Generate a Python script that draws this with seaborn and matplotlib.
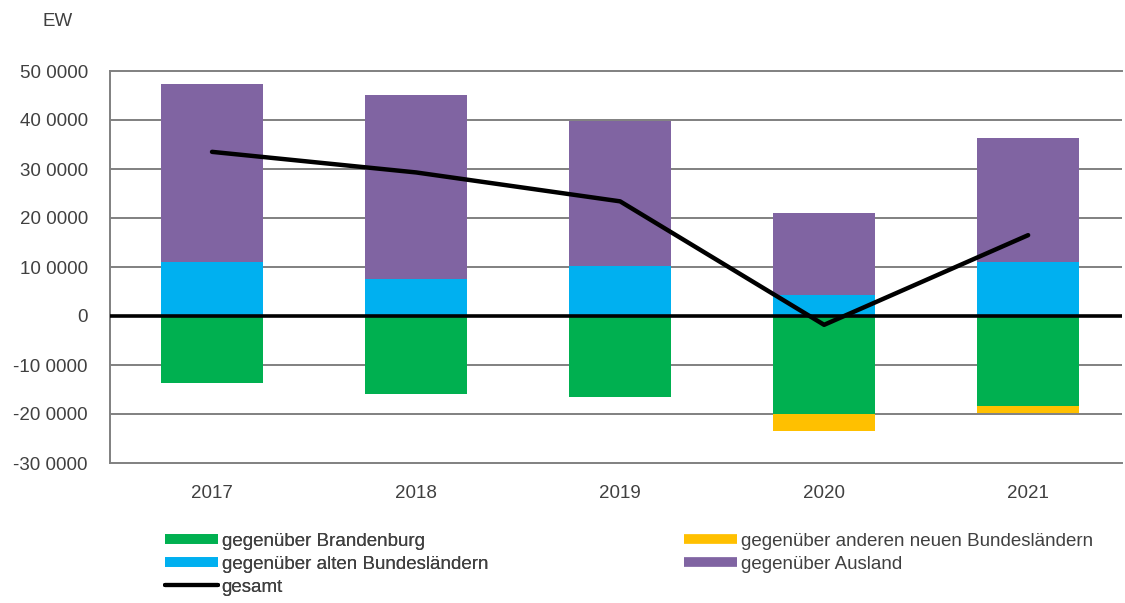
import matplotlib
matplotlib.use("Agg")
import matplotlib.pyplot as plt
from matplotlib.lines import Line2D
import seaborn as sns
import numpy as np
import pandas as pd

years = ["2017", "2018", "2019", "2020", "2021"]
brandenburg = [-13.7, -15.9, -16.6, -20.1, -18.3]
andere_neue = [0.0, 0.0, 0.0, -3.3, -1.4]
alte = [11.0, 7.5, 10.2, 4.3, 11.0]
ausland = [36.3, 37.6, 29.6, 16.8, 25.3]
gesamt = [33.5, 29.3, 23.4, -1.8, 16.5]

ytick_vals = [50, 40, 30, 20, 10, 0, -10, -20, -30]
ytick_labels = ["50 0000", "40 0000", "30 0000", "20 0000", "10 0000", "0",
                "-10 0000", "-20 0000", "-30 0000"]

labels = {
    "bb": "gegenüber Brandenburg",
    "an": "gegenüber anderen neuen Bundesländern",
    "ab": "gegenüber alten Bundesländern",
    "au": "gegenüber Ausland",
    "ges": "gesamt",
}
colors = {"bb": "#00B050", "an": "#FFC000", "ab": "#00B0F0", "au": "#8064A2"}

sns.set_theme(style="white")
plt.rcParams["font.family"] = ["Liberation Sans Narrow", "Liberation Sans", "DejaVu Sans"]

fig = plt.figure(figsize=(11.25, 6.03), dpi=100)
ax = fig.add_axes([110 / 1125, 1 - 463 / 603, 1012 / 1125, (463 - 71) / 603])

df = pd.DataFrame({"year": years, "bb": brandenburg, "an": andere_neue,
                   "ab": alte, "au": ausland, "ges": gesamt})
df["pos_total"] = df["ab"] + df["au"]
df["neg_total"] = df["bb"] + df["an"]

# positive stack: draw total then lower segment on top
sns.barplot(data=df, x="year", y="pos_total", color=colors["au"], width=0.5,
            saturation=1, ax=ax, zorder=2, linewidth=0)
sns.barplot(data=df, x="year", y="ab", color=colors["ab"], width=0.5,
            saturation=1, ax=ax, zorder=2, linewidth=0)
# negative stack
sns.barplot(data=df, x="year", y="neg_total", color=colors["an"], width=0.5,
            saturation=1, ax=ax, zorder=2, linewidth=0)
sns.barplot(data=df, x="year", y="bb", color=colors["bb"], width=0.5,
            saturation=1, ax=ax, zorder=2, linewidth=0)

ax.axhline(0, color="black", lw=2.6, zorder=3)
sns.lineplot(x=np.arange(len(years)), y=df["ges"], color="black", lw=3.2,
             ax=ax, zorder=4, sort=False)

ax.set_xlim(-0.5, 4.46)
ax.set_ylim(-30, 50)
ax.set_yticks(ytick_vals)
ax.set_yticklabels(ytick_labels)
ax.set_xlabel("")
ax.set_ylabel("")
for v in ytick_vals:
    if v not in (0, 50, -30):
        ax.axhline(v, color="#808080", lw=1.4, zorder=1)
ax.tick_params(axis="both", length=0, labelsize=13.5, colors="#404040")
ax.tick_params(axis="y", pad=16)
ax.tick_params(axis="x", pad=16)
ax.spines["right"].set_visible(False)
for s in ("left", "top", "bottom"):
    ax.spines[s].set_color("#808080")
    ax.spines[s].set_linewidth(1.4)

fig.text(42 / 1125, 1 - 22 / 603, "EW", fontsize=13.5, color="#404040",
         va="center", ha="left")

def h(c):
    return Line2D([], [], color=c, lw=7, solid_capstyle="butt")

common = dict(loc="upper left", frameon=False, fontsize=13.5, handlelength=2.8,
              handletextpad=0.2, labelspacing=0.32, borderpad=0,
              labelcolor="#404040")
leg1 = fig.legend(
    [h(colors["bb"]), h(colors["ab"]), Line2D([], [], color="black", lw=3)],
    [labels["bb"], labels["ab"], labels["ges"]],
    bbox_to_anchor=(156 / 1125, 1 - 523 / 603), **common)
leg2 = fig.legend(
    [h(colors["an"]), h(colors["au"])],
    [labels["an"], labels["au"]],
    bbox_to_anchor=(675 / 1125, 1 - 523 / 603), **common)
fig.add_artist(leg1)

fig.savefig("out.png", dpi=100)
